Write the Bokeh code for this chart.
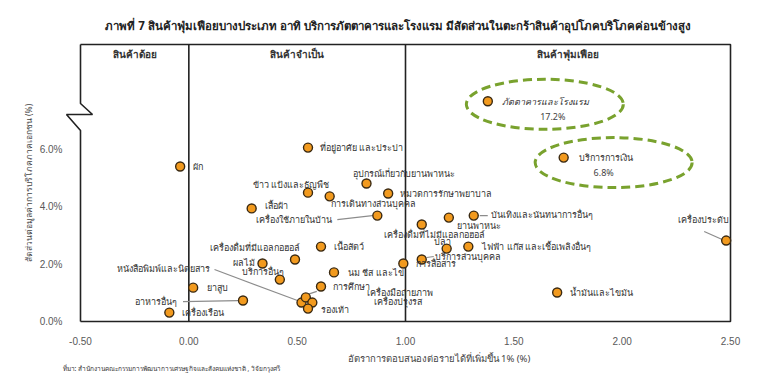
from bokeh.plotting import figure
from bokeh.models import Range1d, FixedTicker, PrintfTickFormatter, NumeralTickFormatter, Label, Title
from bokeh.core.properties import value
from bokeh.embed import file_html
from bokeh.resources import INLINE

TITLE = "ภาพที่ 7 สินค้าฟุ่มเฟือยบางประเภท อาทิ บริการภัตตาคารและโรงแรม มีสัดส่วนในตะกร้าสินค้าอุปโภคบริโภคค่อนข้างสูง"
X_TITLE = "อัตราการตอบสนองต่อรายได้ที่เพิ่มขึ้น 1% (%)"
Y_TITLE = "สัดส่วนต่อมูลค่าการบริโภคภาคเอกชน (%)"
SOURCE = "ที่มา: สำนักงานคณะกรรมการพัฒนาการเศรษฐกิจและสังคมแห่งชาติ , วิจัยกรุงศรี"
ZONES = ["สินค้าด้อย", "สินค้าจำเป็น", "สินค้าฟุ่มเฟือย"]
ZONE_BOUNDS = [-0.5, 0.0, 1.0, 2.5]
X_TICKS = [-0.5, 0.0, 0.5, 1.0, 1.5, 2.0, 2.5]
Y_TICKS = [0, 2, 4, 6]

items = [
    "ผัก", "ที่อยู่อาศัย และประปา", "อุปกรณ์เกี่ยวกับยานพาหนะ", "ข้าว แป้งและธัญพืช",
    "การเดินทางส่วนบุคคล", "หมวดการรักษาพยาบาล", "เสื้อผ้า", "เครื่องใช้ภายในบ้าน",
    "เครื่องดื่มที่มีแอลกอฮอล์", "เนื้อสัตว์", "ผลไม้", "บริการอื่นๆ", "นม ชีส และไข่",
    "การศึกษา", "ยาสูบ", "อาหารอื่นๆ", "เครื่องเรือน", "หนังสือพิมพ์และนิตยสาร",
    "เครื่องมือถ่ายภาพ", "เครื่องปรุงรส", "รองเท้า", "เครื่องดื่มที่ไม่มีแอลกอฮอล์",
    "ยานพาหนะ", "บันเทิงและนันทนาการอื่นๆ", "ปลา", "ไฟฟ้า แก๊ส และเชื้อเพลิงอื่นๆ",
    "บริการส่วนบุคคล", "การสื่อสาร", "เครื่องประดับ", "น้ำมันและไขมัน",
    "ภัตตาคารและโรงแรม", "บริการการเงิน",
]
elasticity = [
    -0.04, 0.55, 0.82, 0.55,
    0.65, 0.92, 0.29, 0.87,
    0.49, 0.61, 0.34, 0.42, 0.67,
    0.61, 0.02, 0.25, -0.09, 0.52,
    0.54, 0.57, 0.55, 1.075,
    1.20, 1.315, 1.19, 1.29,
    1.075, 0.99, 2.48, 1.70,
    1.38, 1.73,
]
share = [
    5.40, 6.06, 4.81, 4.49,
    4.36, 4.46, 3.94, 3.69,
    2.16, 2.61, 2.02, 1.46, 1.71,
    1.22, 1.18, 0.73, 0.31, 0.66,
    0.84, 0.66, 0.45, 3.38,
    3.62, 3.69, 2.54, 2.61,
    2.16, 2.02, 2.82, 1.01,
    17.2, 5.71,
]
highlight_notes = {"ภัตตาคารและโรงแรม": "17.2%", "บริการการเงิน": "6.8%"}

# ---- axis break (values above BREAK are squeezed) ----
BREAK = 7.0
SQUEEZE = 0.066


def axis_y(v):
    return v if v <= BREAK else BREAK + (v - BREAK) * SQUEEZE


# ---- layout (pixels) ----
W, H = 768, 387
PXX = 650 / 3.0     # px per x unit
PXY = 28.7          # px per y unit
YTOP = 277 / PXY
PAD_L, PAD_R, PAD_B, PAD_T = 18, 3, 3, 3

# label offsets in px: (dx right, dy down, align)
LAYOUT = {
    "ผัก": (13, 0, "left"),
    "ที่อยู่อาศัย และประปา": (12, 0, "left"),
    "อุปกรณ์เกี่ยวกับยานพาหนะ": (-14, -10, "left"),
    "ข้าว แป้งและธัญพืช": (-55, -8, "left"),
    "การเดินทางส่วนบุคคล": (1, 7, "left"),
    "หมวดการรักษาพยาบาล": (12, 0, "left"),
    "เสื้อผ้า": (13, -3, "left"),
    "เครื่องใช้ภายในบ้าน": (-45, 4, "right"),
    "เครื่องดื่มที่มีแอลกอฮอล์": (-40, -12, "center"),
    "เนื้อสัตว์": (13, 0, "left"),
    "ผลไม้": (-8, -1, "right"),
    "บริการอื่นๆ": (-17, -8, "center"),
    "นม ชีส และไข่": (14, 0, "left"),
    "การศึกษา": (12, 0, "left"),
    "ยาสูบ": (14, 0, "left"),
    "อาหารอื่นๆ": (-66, 1, "right"),
    "เครื่องเรือน": (13, 0, "left"),
    "หนังสือพิมพ์และนิตยสาร": (-92, -34, "right"),
    "เครื่องมือถ่ายภาพ": (61, -5, "left"),
    "เครื่องปรุงรส": (62, -1, "left"),
    "รองเท้า": (13, 1, "left"),
    "เครื่องดื่มที่ไม่มีแอลกอฮอล์": (13, 10, "center"),
    "ยานพาหนะ": (8, 8, "left"),
    "บันเทิงและนันทนาการอื่นๆ": (17, -1, "left"),
    "ปลา": (-4, -7, "center"),
    "ไฟฟ้า แก๊ส และเชื้อเพลิงอื่นๆ": (14, 0, "left"),
    "บริการส่วนบุคคล": (13, -3, "left"),
    "การสื่อสาร": (13, 0, "left"),
    "เครื่องประดับ": (-23, -21, "center"),
    "น้ำมันและไขมัน": (13, 0, "left"),
    "ภัตตาคารและโรงแรม": (14, 0, "left"),
    "บริการการเงิน": (15, 0, "left"),
}
LEADERS = {
    "เครื่องใช้ภายในบ้าน": (-40, 4, -5, 0),
    "อาหารอื่นๆ": (-60, 1, -5, 0),
    "หนังสือพิมพ์และนิตยสาร": (-87, -33, -4, -2),
    "เครื่องมือถ่ายภาพ": (2, -3, 11, -6),
    "บันเทิงและนันทนาการอื่นๆ": (6, 0, 14, 0),
    "บริการส่วนบุคคล": (5, -2, 12, -3),
    "เครื่องประดับ": (-22, -9, -4, -1),
}
NOTE_OFFSETS = {"ภัตตาคารและโรงแรม": (65, 15), "บริการการเงิน": (40, 15)}
ELLIPSE_OFFSETS = {"ภัตตาคารและโรงแรม": (57, 3), "บริการการเงิน": (50, 5)}

FONT_NAME = "Noto Sans"
FONT = value(FONT_NAME)

p = figure(width=W, height=H, output_backend="svg", toolbar_location=None,
           x_range=Range1d(-0.5 - PAD_L / PXX, 2.5 + PAD_R / PXX),
           y_range=Range1d(-PAD_B / PXY, YTOP + PAD_T / PXY),
           min_border_left=62, min_border_right=35, min_border_top=41, min_border_bottom=63)
p.outline_line_color = None
p.grid.visible = False
p.background_fill_color = "white"
p.border_fill_color = "white"

p.title.text = TITLE
p.title.align = "center"
p.title.text_font = FONT_NAME
p.title.text_font_size = "11.5px"
p.title.text_font_style = "bold"
p.title.text_color = "#222222"
p.title.standoff = 18

for ax in (p.xaxis[0], p.yaxis[0]):
    ax.axis_line_color = None
    ax.major_tick_line_color = None
    ax.minor_tick_line_color = None
    ax.major_label_text_color = "#595959"
    ax.major_label_text_font = "Liberation Sans"
    ax.major_label_text_font_size = "10px"
p.xaxis.ticker = FixedTicker(ticks=X_TICKS)
p.xaxis.formatter = NumeralTickFormatter(format="0.00")
p.xaxis.major_label_standoff = 6
p.yaxis.ticker = FixedTicker(ticks=Y_TICKS)
p.yaxis.formatter = PrintfTickFormatter(format="%.1f%%")
p.yaxis.major_label_standoff = -6

p.add_layout(Title(text=X_TITLE, align="left", offset=347 - 62, text_font=FONT_NAME,
                   text_font_size="9.5px", text_font_style="normal", text_color="#444444",
                   standoff=4), "below")
p.add_layout(Title(text=SOURCE, align="left", offset=0, text_font=FONT_NAME,
                   text_font_size="6.5px", text_font_style="normal", text_color="#333333",
                   standoff=-12), "below")
p.add_layout(Title(text=Y_TITLE, align="center", offset=5, text_font=FONT_NAME,
                   text_font_size="8.5px", text_font_style="normal", text_color="#444444",
                   standoff=6), "left")

# frame with axis break on the left edge
FRAME = "#222222"
x0, x1 = ZONE_BOUNDS[0], ZONE_BOUNDS[-1]
yb_lo, yb_mid, yb_hi = (321 - 130) / PXY, (321 - 114) / PXY, (321 - 103) / PXY
p.line([x0, x0, x0 - 14 / PXX, x0 + 12 / PXX, x0, x0],
       [0, yb_lo, yb_mid, yb_mid, yb_hi, YTOP], line_color=FRAME, line_width=1.6)
p.line([x0, x1, x1, x0], [YTOP, YTOP, 0, 0], line_color=FRAME, line_width=1.6)
for xb in ZONE_BOUNDS[1:-1]:
    p.line([xb, xb], [0, YTOP], line_color=FRAME, line_width=1.6)

# zone headers
for i, z in enumerate(ZONES):
    p.add_layout(Label(x=(ZONE_BOUNDS[i] + ZONE_BOUNDS[i + 1]) / 2, y=YTOP - 9 / PXY, text=z,
                       text_align="center", text_baseline="middle", text_font=FONT_NAME,
                       text_font_size="10px", text_font_style="bold", text_color="#333333"))

ys = [axis_y(v) for v in share]

# highlight ellipses
for name, (ox, oy) in ELLIPSE_OFFSETS.items():
    i = items.index(name)
    p.ellipse(x=[elasticity[i] + ox / PXX], y=[ys[i] - oy / PXY], width=157 / PXX, height=50 / PXY,
              fill_color=None, line_color="#79A22E", line_width=3, line_dash="9 5")

# leader lines
lx, ly = [], []
for name, (a, b, c, d) in LEADERS.items():
    i = items.index(name)
    lx.append([elasticity[i] + a / PXX, elasticity[i] + c / PXX])
    ly.append([ys[i] - b / PXY, ys[i] - d / PXY])
p.multi_line(lx, ly, line_color="#8c8c8c", line_width=1.2)

p.scatter(elasticity, ys, size=9, fill_color="#F29A1E", line_color="#3b2a12", line_width=1.4)

# point labels
groups = {}
for i, name in enumerate(items):
    dx, dy, al = LAYOUT[name]
    style = "italic" if name == "ภัตตาคารและโรงแรม" else "normal"
    g = groups.setdefault((al, style), {"x": [], "y": [], "t": []})
    g["x"].append(elasticity[i] + dx / PXX)
    g["y"].append(ys[i] - dy / PXY)
    g["t"].append(name)
for (al, style), g in groups.items():
    p.text(x=g["x"], y=g["y"], text=g["t"], text_align=al, text_baseline="middle",
           text_font=FONT, text_font_size="9px", text_color="#333333", text_font_style=style)

for name, note in highlight_notes.items():
    i = items.index(name)
    ox, oy = NOTE_OFFSETS[name]
    p.text(x=[elasticity[i] + ox / PXX], y=[ys[i] - oy / PXY], text=[note], text_align="center",
           text_baseline="middle", text_font=FONT, text_font_size="9px", text_color="#444444")

open("out.html", "w").write(file_html(p, INLINE))
